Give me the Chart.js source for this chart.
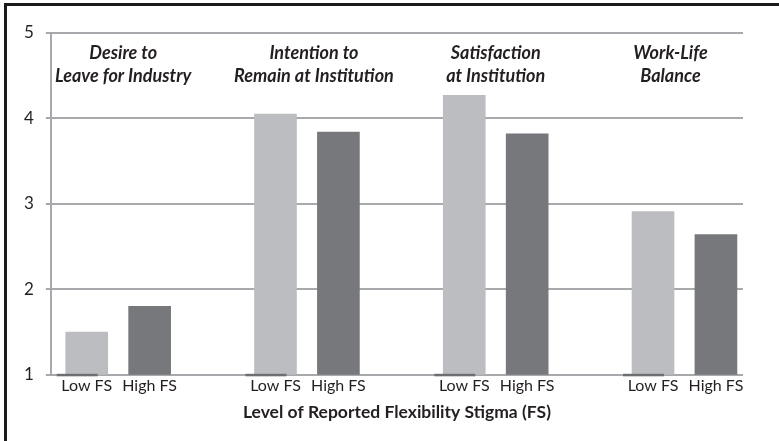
<!DOCTYPE html>
<html>
<head>
<meta charset="utf-8">
<script src="https://cdn.jsdelivr.net/npm/chart.js@4.4.1/dist/chart.umd.min.js"></script>
<style>
    body { margin: 0; background: #fff; }
    #wrap { position: relative; width: 779px; height: 441px; overflow: hidden; }
    #frame { position: absolute; left: 4px; top: 3px; width: 900px; height: 600px;
             border-left: 3px solid #1a1a1a; border-top: 3px solid #1a1a1a; }
    canvas { position: absolute; left: 0; top: 0; }
</style>
</head>
<body>
<div id="wrap">
    <div id="frame"></div>
    <canvas id="myChart" width="779" height="441"></canvas>
</div>
<script>
/* global Chart */

// data
const groupTitles = [
    ['Desire to', 'Leave for Industry'],
    ['Intention to', 'Remain at Institution'],
    ['Satisfaction', 'at Institution'],
    ['Work-Life', 'Balance'],
];
const levelLabels = ['Low FS', 'High FS'];
const lowFS = [1.50, 4.05, 4.27, 2.91];
const highFS = [1.80, 3.84, 3.82, 2.64];
const yTicks = [1, 2, 3, 4, 5];
const axisTitle = 'Level of Reported Flexibility Stigma (FS)';

// each group takes 3 slots on the x scale: low, high, gap
const lowX = lowFS.map((v, g) => g * 3);
const highX = highFS.map((v, g) => g * 3 + 1);
const titleNudge = [5, 7, 0, -14];

const textColor = '#231f20';
const gridColor = '#a7a9ac';
const font = 'Lato';

const labelAt = {};
lowX.forEach(x => { labelAt[x] = levelLabels[0]; });
highX.forEach(x => { labelAt[x] = levelLabels[1]; });

const annotate = {
    id: 'annotate',
    afterDatasetsDraw(chart) {
        const { ctx, scales: { x, y } } = chart;
        ctx.save();
        // short dark marks on the baseline under each low bar
        ctx.fillStyle = '#6d6e71';
        lowX.forEach(v => {
            const cx = x.getPixelForValue(v) - 9.5;
            ctx.fillRect(cx - 20.5, y.getPixelForValue(yTicks[0]) - 1, 41, 2.5);
        });
        // group titles
        ctx.font = 'italic bold 18px ' + font;
        ctx.fillStyle = textColor;
        ctx.textAlign = 'center';
        ctx.textBaseline = 'middle';
        groupTitles.forEach((lines, g) => {
            const cx = (x.getPixelForValue(lowX[g]) + x.getPixelForValue(highX[g])) / 2 + titleNudge[g];
            lines.forEach((t, i) => ctx.fillText(t, cx, y.top + 20 + i * 23));
        });
        ctx.restore();
    }
};

const myChart = new Chart(document.getElementById('myChart'), {
    type: 'bar',
    data: {
        datasets: [
            {
                label: levelLabels[0],
                data: lowFS.map((v, g) => ({ x: lowX[g], y: v })),
                backgroundColor: '#bcbdc0',
                grouped: false,
                barThickness: 42,
            },
            {
                label: levelLabels[1],
                data: highFS.map((v, g) => ({ x: highX[g], y: v })),
                backgroundColor: '#77787c',
                grouped: false,
                barThickness: 42,
            },
        ]
    },
    options: {
        responsive: false,
        animation: false,
        layout: { padding: { top: 33, left: 12, right: 36, bottom: 18 } },
        plugins: {
            legend: { display: false },
            tooltip: { enabled: false },
        },
        scales: {
            x: {
                type: 'linear',
                offset: false,
                min: -0.57,
                max: 10.43,
                afterBuildTicks: axis => {
                    axis.ticks = lowX.concat(highX).sort((a, b) => a - b).map(v => ({ value: v }));
                },
                ticks: {
                    autoSkip: false,
                    maxRotation: 0,
                    padding: 1,
                    color: textColor,
                    font: { family: font, size: 16 },
                    callback: v => labelAt[v],
                },
                grid: { display: false, drawTicks: false, offset: false },
                border: { display: false },
                title: {
                    display: true,
                    text: axisTitle,
                    color: textColor,
                    font: { family: font, size: 17.5, weight: 'bold' },
                    padding: { top: 6, bottom: 0 },
                },
            },
            y: {
                min: yTicks[0],
                max: yTicks[yTicks.length - 1],
                afterBuildTicks: axis => {
                    axis.ticks = yTicks.map(v => ({ value: v }));
                },
                ticks: {
                    padding: 12,
                    color: textColor,
                    font: { family: font, size: 17 },
                },
                grid: { color: gridColor, lineWidth: 2, tickLength: 5 },
                border: { color: gridColor, width: 2 },
            },
        },
    },
    plugins: [annotate],
});
</script>
</body>
</html>
